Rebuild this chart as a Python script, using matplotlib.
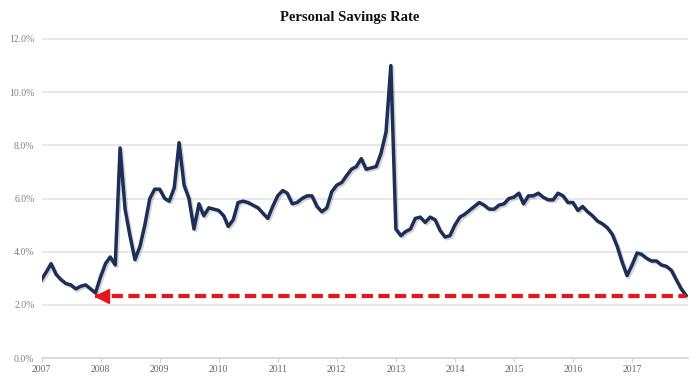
import matplotlib
matplotlib.use("Agg")
import matplotlib.pyplot as plt
import matplotlib.patheffects as pe
from matplotlib.transforms import ScaledTranslation
import pandas as pd

# monthly personal savings rate (%)
rate_2007 = [2.95, 3.25, 3.55, 3.15, 2.95, 2.8, 2.75, 2.6, 2.7, 2.75, 2.6, 2.45]
rate_2008 = [3.05, 3.55, 3.8, 3.5, 7.9, 5.6, 4.6, 3.7, 4.2, 5.0, 6.0, 6.35]
rate_2009 = [6.35, 6.0, 5.9, 6.4, 8.1, 6.5, 6.0, 4.85, 5.8, 5.35, 5.65, 5.6]
rate_2010 = [5.55, 5.35, 4.95, 5.2, 5.85, 5.9, 5.85, 5.75, 5.65, 5.45, 5.25, 5.7]
rate_2011 = [6.1, 6.3, 6.2, 5.8, 5.85, 6.0, 6.1, 6.1, 5.7, 5.5, 5.65, 6.25]
rate_2012 = [6.5, 6.6, 6.85, 7.1, 7.2, 7.5, 7.1, 7.15, 7.2, 7.7, 8.5, 11.0]
rate_2013 = [4.85, 4.6, 4.75, 4.85, 5.25, 5.3, 5.1, 5.3, 5.2, 4.8, 4.55, 4.6]
rate_2014 = [5.0, 5.3, 5.4, 5.55, 5.7, 5.85, 5.75, 5.6, 5.6, 5.75, 5.8, 6.0]
rate_2015 = [6.05, 6.2, 5.8, 6.1, 6.1, 6.2, 6.05, 5.95, 5.95, 6.2, 6.1, 5.85]
rate_2016 = [5.85, 5.55, 5.7, 5.5, 5.35, 5.15, 5.05, 4.9, 4.65, 4.2, 3.6, 3.1]
rate_2017 = [3.5, 3.95, 3.9, 3.75, 3.65, 3.65, 3.5, 3.45, 3.3, 2.95, 2.6, 2.35]

years = list(range(2007, 2018))
y_ticks = [0, 2, 4, 6, 8, 10, 12]
arrow_target = "2007-12-01"  # last time the rate was this low

rates = (rate_2007 + rate_2008 + rate_2009 + rate_2010 + rate_2011 + rate_2012
         + rate_2013 + rate_2014 + rate_2015 + rate_2016 + rate_2017)
dates = pd.date_range("2007-01-01", periods=len(rates), freq="MS")

navy = "#1d2f58"
red = "#e8161b"
grid_c = "#e4e4e4"
label_c = "#808080"

fig = plt.figure(figsize=(7, 3.82), dpi=100)
ax = fig.add_axes([41.5 / 700, 24 / 382, (688 - 41.5) / 700, (358 - 39) / 382])

ax.set_xlim(dates[0], dates[-1] + pd.Timedelta(days=12))
ax.set_ylim(0, 12)

# horizontal grid
ax.hlines(y_ticks, 0, 1, transform=ax.get_yaxis_transform(), colors=grid_c,
          lw=1.2, clip_on=False, zorder=0)

ax.plot(dates, rates, color=navy, lw=2.5, solid_joinstyle="round", zorder=3,
        path_effects=[pe.SimpleLineShadow(offset=(1.2, -1.2), shadow_color="#555555", alpha=0.25),
                      pe.Normal()])

# dashed red arrow back to the last time the rate was this low
level = rates[-1]
tip = pd.Timestamp(arrow_target)
ax.plot([tip, dates[-1]], [level, level], color=red, lw=3, dashes=[2.7, 1.3],
        dash_capstyle="butt", zorder=4)
head_ms = 9.5
shift = ScaledTranslation(head_ms / 2 / 72, 0, fig.dpi_scale_trans)
ax.plot([tip], [level], marker="<", ms=head_ms, color=red, mec=red, lw=0,
        transform=ax.transData + shift, zorder=5)

for s in ["top", "right", "left"]:
    ax.spines[s].set_visible(False)
ax.spines["bottom"].set_color("#d8d8d8")
ax.spines["bottom"].set_linewidth(1.2)

ax.set_yticks(y_ticks)
ax.set_yticklabels(["%.1f%%" % v for v in y_ticks])
ax.tick_params(axis="y", length=0, pad=5, labelsize=7, labelcolor=label_c)
ax.set_xticks([pd.Timestamp("%d-01-01" % y) for y in years])
ax.set_xticklabels([str(y) for y in years])
ax.tick_params(axis="x", length=3, width=0.8, color="#cfcfcf", pad=2,
               labelsize=7, labelcolor="#666666")
for lab in ax.get_xticklabels() + ax.get_yticklabels():
    lab.set_family("Liberation Serif")

fig.text(0.5, 1 - 17 / 382, "Personal Savings Rate", ha="center", va="center",
         fontsize=10.5, fontweight="bold", family="Liberation Serif", color="#111111")

fig.savefig("out.png", dpi=100, facecolor="white")
